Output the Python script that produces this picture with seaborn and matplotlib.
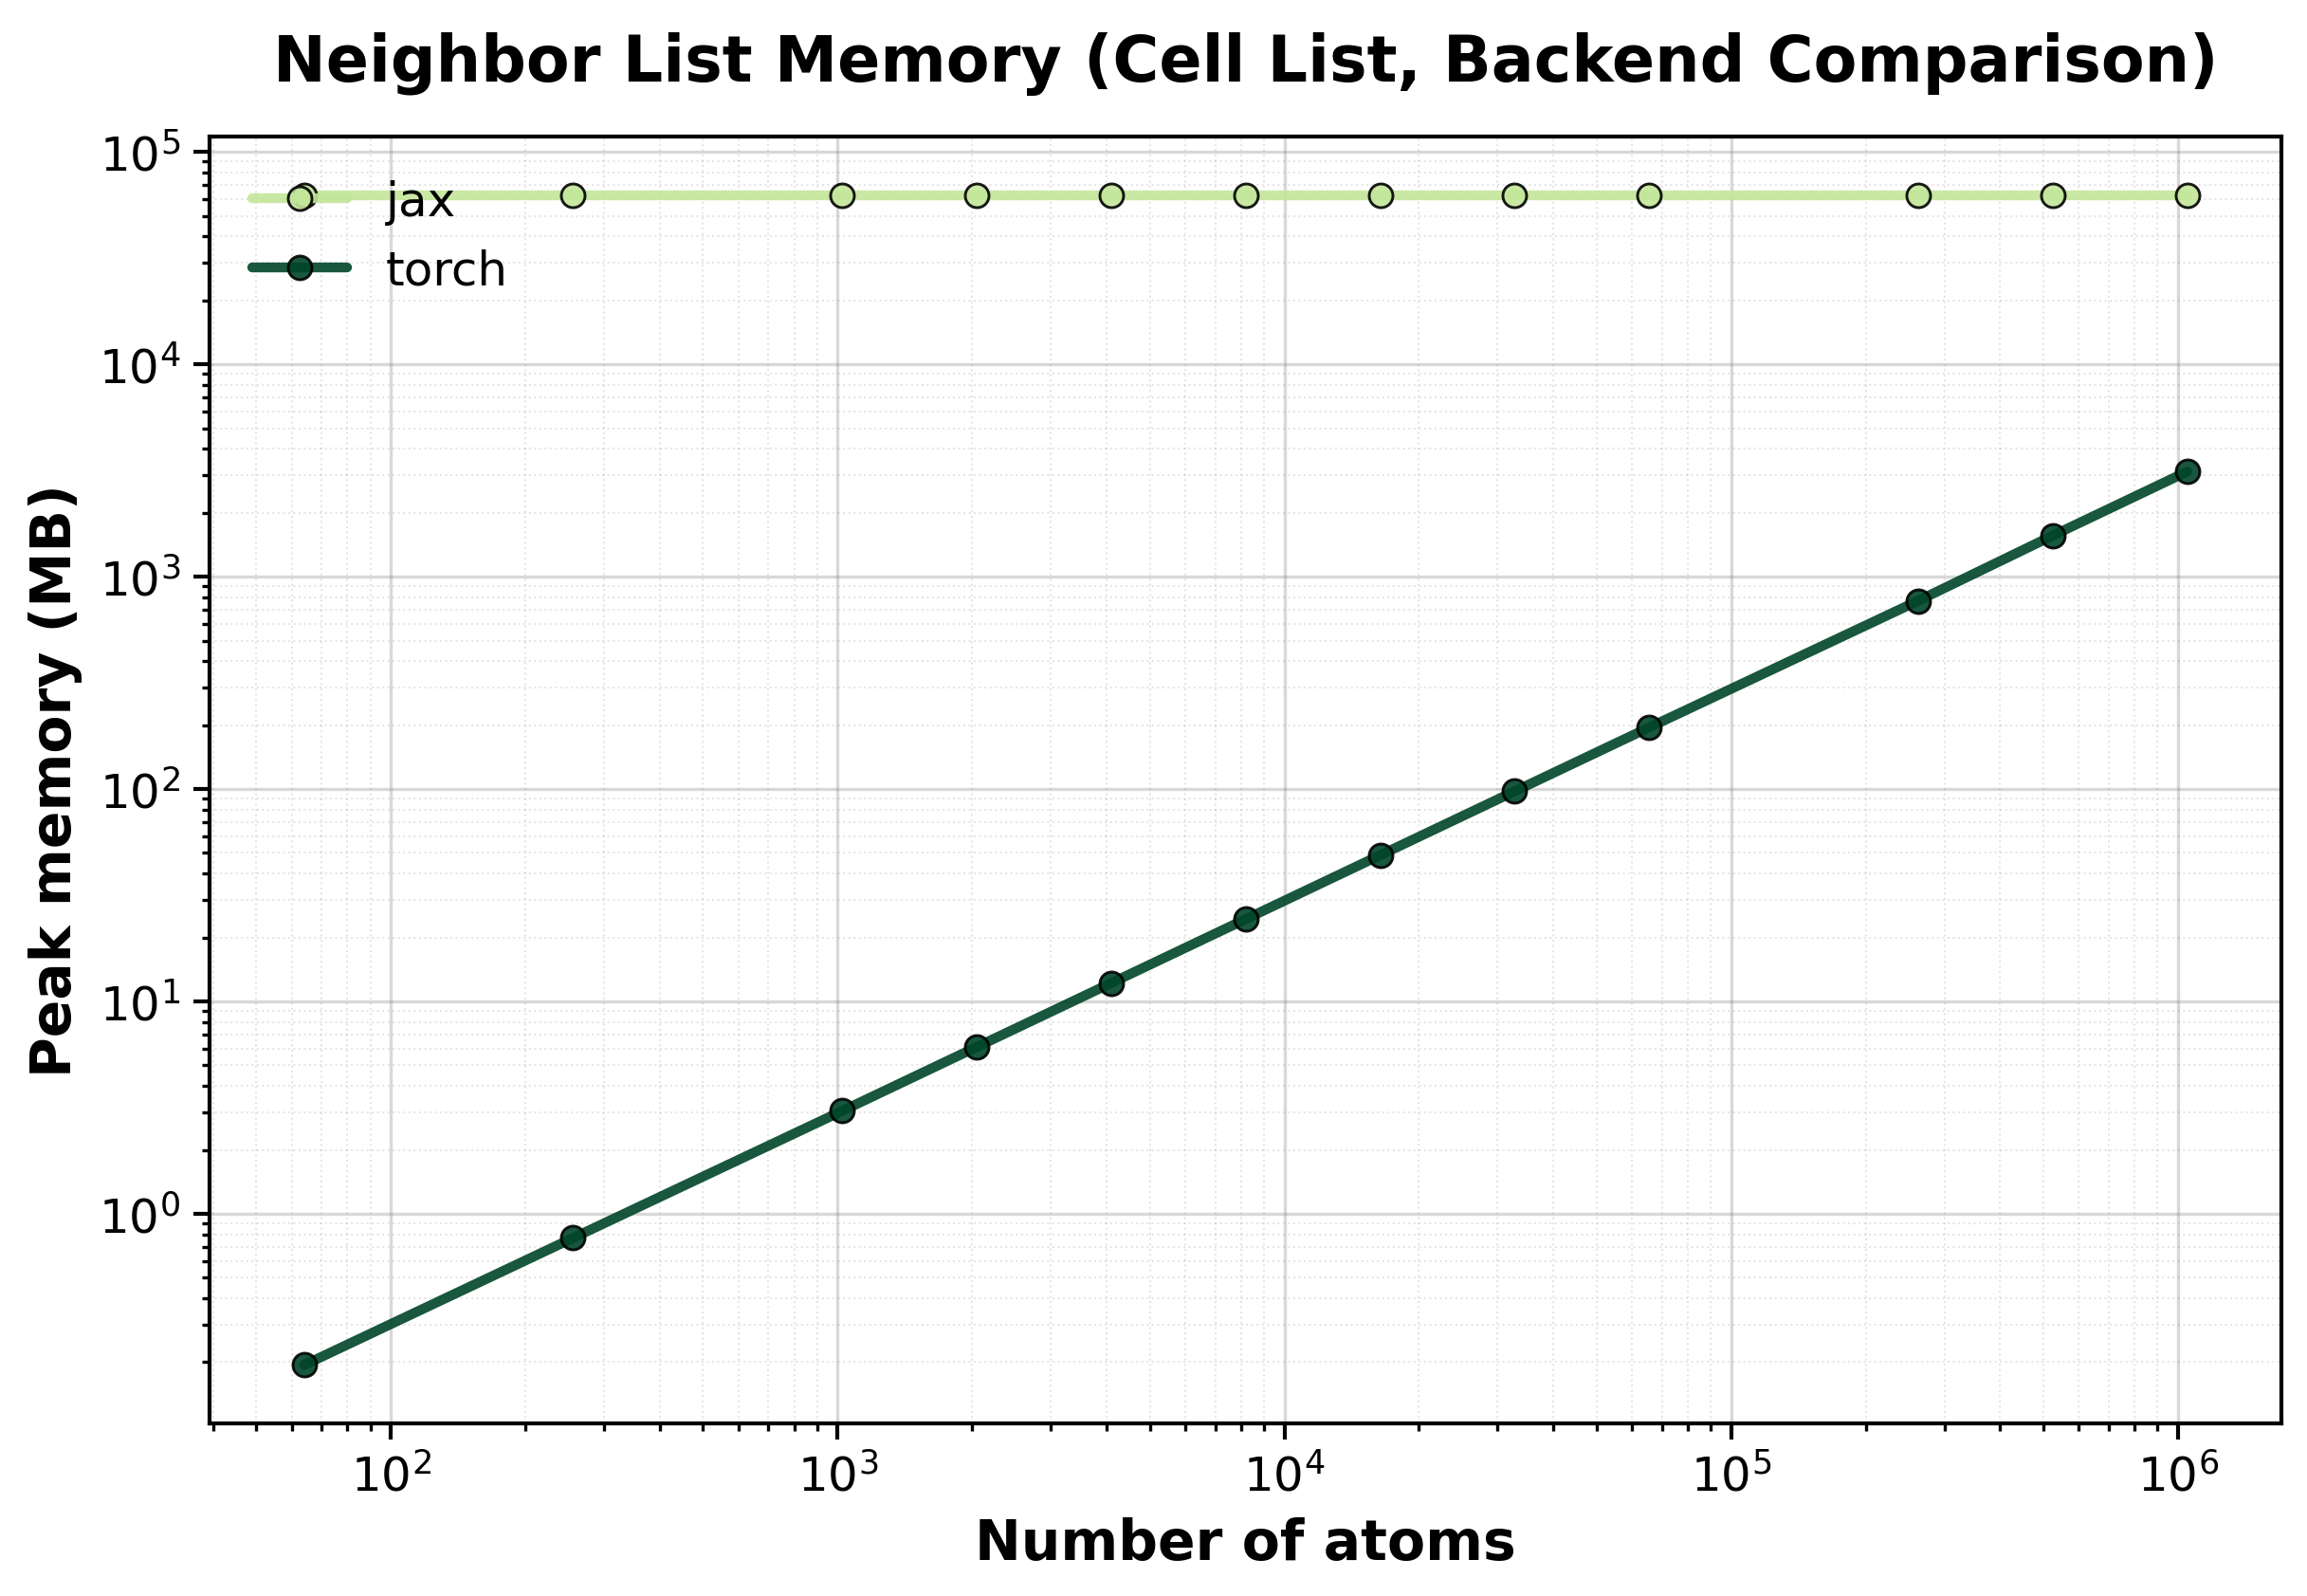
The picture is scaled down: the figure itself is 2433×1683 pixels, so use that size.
import numpy as np
import pandas as pd
import matplotlib.pyplot as plt
import seaborn as sns
from matplotlib.ticker import LogLocator

# values
n_atoms = [64, 256, 1024, 2048, 4096, 8192, 16384, 32768, 65536, 262144, 524288, 1048576]
jax_mb = [62700, 62700, 62700, 62700, 62700, 62700, 62700, 62700, 62700, 62700, 62700, 62700]
torch_mb = [0.194, 0.77, 3.05, 6.1, 12.2, 24.4, 48.8, 97.6, 195, 770, 1560, 3125]
backends = ["jax", "torch"]
colors = {"jax": "#c2e699", "torch": "#004529"}


def main():
    df = pd.concat([
        pd.DataFrame({"atoms": n_atoms, "memory": jax_mb, "backend": "jax"}),
        pd.DataFrame({"atoms": n_atoms, "memory": torch_mb, "backend": "torch"}),
    ], ignore_index=True)

    sns.set_style("ticks")
    plt.rcParams['font.family'] = ['DejaVu Sans']
    plt.rcParams['text.color'] = 'black'
    plt.rcParams['axes.labelcolor'] = 'black'
    plt.rcParams['xtick.color'] = 'black'
    plt.rcParams['ytick.color'] = 'black'

    fig, ax = plt.subplots(figsize=(8.113, 5.613), dpi=300)
    fig.subplots_adjust(left=0.091, right=0.9885, top=0.914, bottom=0.108)

    sns.lineplot(data=df, x="atoms", y="memory", hue="backend", hue_order=backends,
                 palette=colors, marker="o", markersize=6, markeredgecolor="black",
                 markeredgewidth=0.7, linewidth=2.5, alpha=0.9, ax=ax)

    ax.set_xscale("log")
    ax.set_yscale("log")
    ax.xaxis.set_minor_locator(LogLocator(base=10, subs=np.arange(2, 10), numticks=20))
    ax.yaxis.set_minor_locator(LogLocator(base=10, subs=np.arange(2, 10), numticks=20))

    ax.grid(True, which="major", color="gray", alpha=0.3, linewidth=0.8)
    ax.grid(True, which="minor", color="gray", linestyle=":", alpha=0.2, linewidth=0.5)
    ax.set_axisbelow(True)

    for s in ax.spines.values():
        s.set_visible(True)
        s.set_color("black")
        s.set_linewidth(1.0)

    ax.tick_params(axis="both", which="major", labelsize=12, length=4, width=1, direction="out")
    ax.tick_params(axis="both", which="minor", length=2, width=0.8, direction="out")

    ax.set_xlabel("Number of atoms", fontsize=14, fontweight="bold")
    ax.set_ylabel("Peak memory (MB)", fontsize=14, fontweight="bold")
    ax.set_title("Neighbor List Memory (Cell List, Backend Comparison)",
                 fontsize=16, fontweight="bold", pad=14)

    ax.legend(loc="upper left", frameon=False, fontsize=12)

    fig.savefig("out.png", dpi=300)


if __name__ == "__main__":
    main()
